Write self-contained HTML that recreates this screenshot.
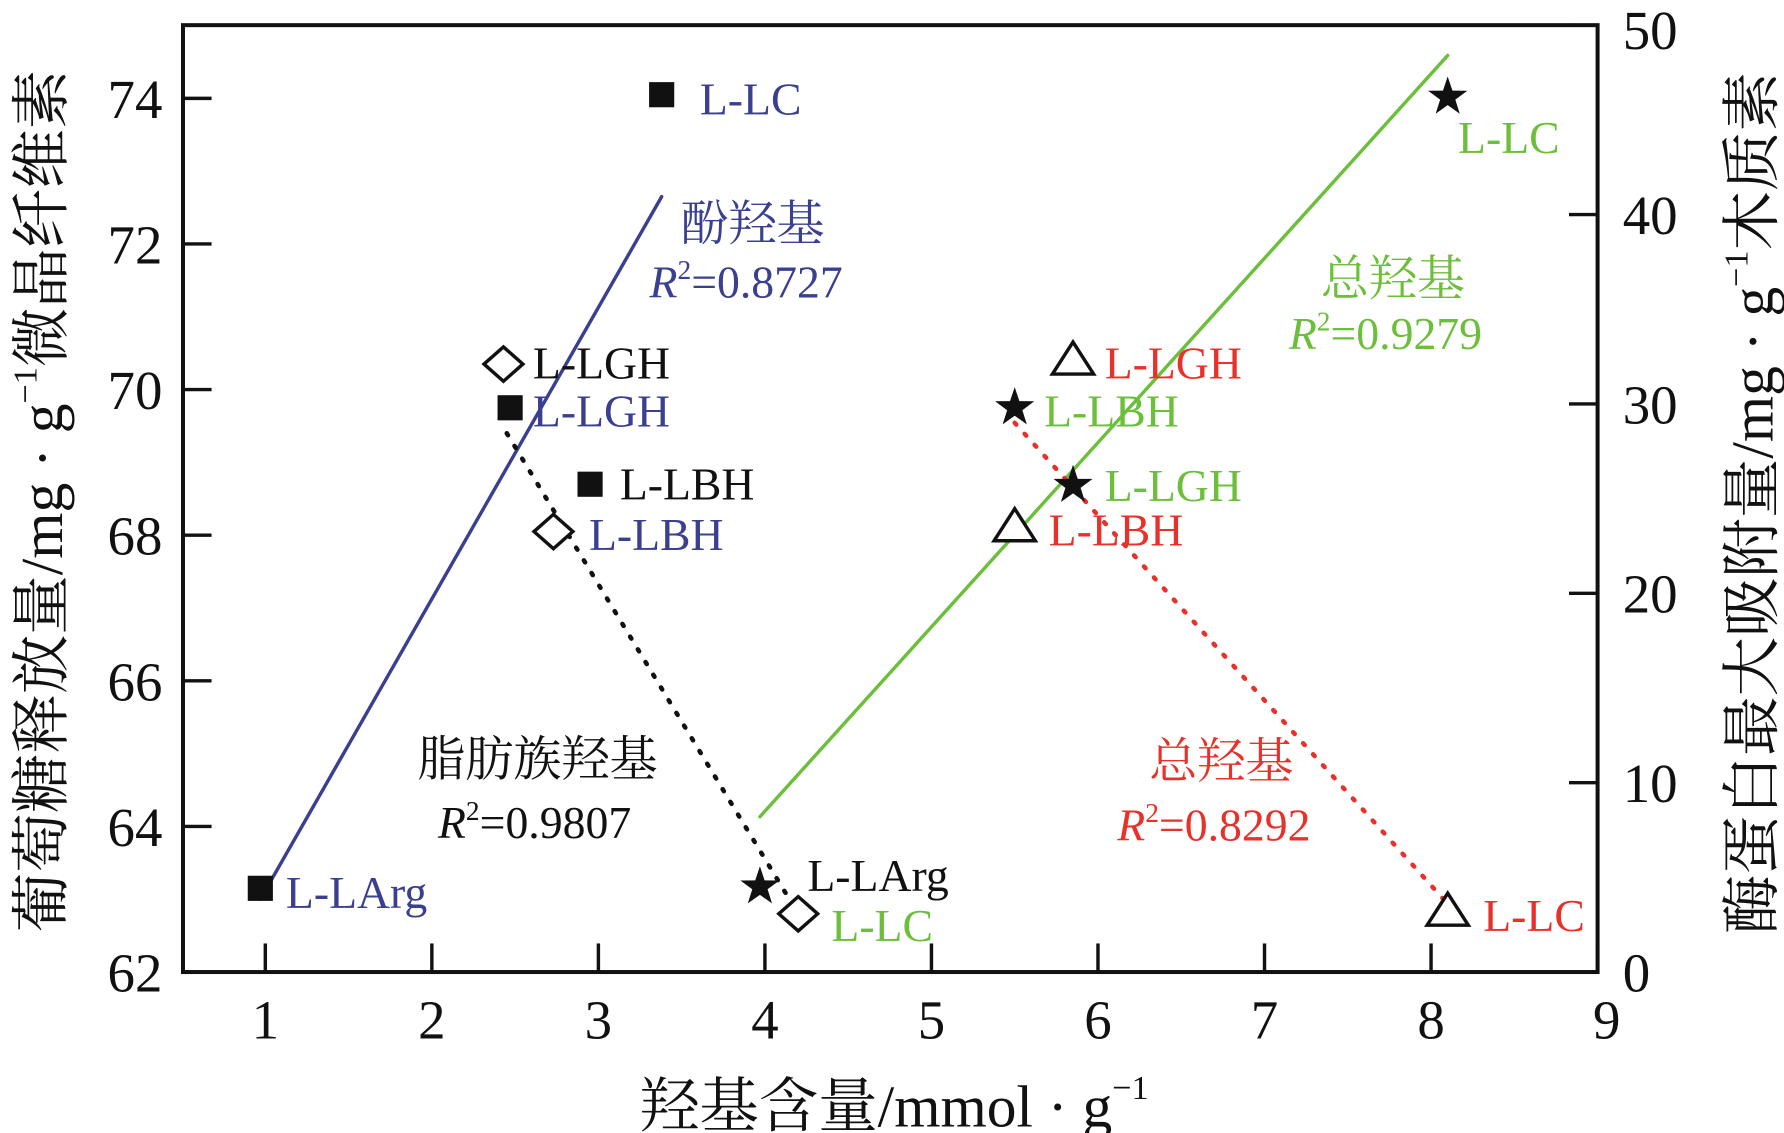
<!DOCTYPE html>
<html><head><meta charset="utf-8"><style>
html,body{margin:0;padding:0;background:#fff;}
svg{display:block;}
text{font-family:"Liberation Serif","Noto Serif CJK SC",serif;}
</style></head><body>
<svg id="chart" width="1784" height="1133" viewBox="0 0 1560 990.75" xmlns="http://www.w3.org/2000/svg"></svg>
<script>
// ---- data ----
const xTicks = [1,2,3,4,5,6,7,8,9];
const yLeftTicks = [62,64,66,68,70,72,74];
const yRightTicks = [0,10,20,30,40,50];
// phenolic hydroxyl (squares, left axis)
const sqNames = ['L-LArg','L-LGH','L-LBH','L-LC'];
const sqX = [0.97,2.47,2.95,3.38];
const sqY = [63.15,69.75,68.7,74.05];
// aliphatic hydroxyl (diamonds, left axis)
const dmNames = ['L-LGH','L-LBH','L-LC'];
const dmX = [2.43,2.73,4.2];
const dmY = [70.35,68.05,62.8];
// total hydroxyl (stars, right axis)
const stNames = ['L-LArg','L-LBH','L-LGH','L-LC'];
const stX = [3.97,5.5,5.85,8.1];
const stY = [4.5,29.8,25.7,46.2];
// total hydroxyl (triangles, right axis)
const trNames = ['L-LGH','L-LBH','L-LC'];
const trX = [5.85,5.5,8.1];
const trY = [32.3,23.5,3.2];
// fit lines [x0,x1], [y0,y1]
const fitBlueX = [0.97,3.38], fitBlueY = [63.0,72.65];
const fitBlackX = [2.45,4.2], fitBlackY = [69.4,62.8];
const fitGreenX = [3.97,8.1], fitGreenY = [8.2,48.4];
const fitRedX = [5.5,8.1], fitRedY = [29.0,3.6];

const NS='http://www.w3.org/2000/svg';
const svg=document.getElementById('chart');
const L=160,R=1397,T=22,B=850;
const sx=v=>232+(v-1)*(R-232)/8;
const syL=v=>B-(v-62)*(B-86)/12;
const syR=v=>B-v*(B-22)/50;
const BLUE='#3a3f8f',GREEN='#6cbf3a',RED='#e8312a';
function mk(tag,attrs,parent){const e=document.createElementNS(NS,tag);for(const k in attrs)e.setAttribute(k,attrs[k]);(parent||svg).appendChild(e);return e;}
function txt(x,y,s,fill,size,name,anchor){const t=mk('text',{x:x,y:y,fill:fill,'font-size':size,'text-anchor':anchor||'start'});t.textContent=s;


return t;}

// frame
const fr=mk('rect',{x:L,y:T,width:R-L,height:B-T,fill:'none',stroke:'#111','stroke-width':3.5});


xTicks.forEach(v=>{const l=mk('line',{x1:sx(v),x2:sx(v),y1:B,y2:B-25,stroke:'#111','stroke-width':3});


txt(sx(v)+(v===9?8:0),B+58,String(v),'#111',48,'x-tick-label','middle');});
yLeftTicks.forEach(v=>{const l=mk('line',{x1:L,x2:L+25,y1:syL(v),y2:syL(v),stroke:'#111','stroke-width':3});


txt(L-18,syL(v)+17,String(v),'#111',48,'y-left-tick-label','end');});
yRightTicks.forEach(v=>{const l=mk('line',{x1:R,x2:R-25,y1:syR(v),y2:syR(v),stroke:'#111','stroke-width':3});


txt(R+22,syR(v)+17+(v===50?4:0),String(v),'#111',48,'y-right-tick-label','start');});

// axis titles
const xt=mk('text',{x:782,y:985,'font-size':52,'text-anchor':'middle',fill:'#111'});
xt.innerHTML='羟基含量/mmol · g<tspan font-size="30" dy="-24">−1</tspan>';


const yl=mk('text',{x:0,y:0,'font-size':52,'text-anchor':'middle',fill:'#111',transform:'translate(54,438) rotate(-90)'});
yl.innerHTML='葡萄糖释放量/mg · g<tspan font-size="30" dy="-22">−1</tspan><tspan dy="22">微晶纤维素</tspan>';


const yr=mk('text',{x:0,y:0,'font-size':52,'text-anchor':'middle',fill:'#111',transform:'translate(1550,440) rotate(-90)'});
yr.innerHTML='酶蛋白最大吸附量/mg · g<tspan font-size="30" dy="-22">−1</tspan><tspan dy="22">木质素</tspan>';



// fit lines
function fit(xs,ys,sy,color,dash,name){const l=mk('line',{x1:sx(xs[0]),y1:sy(ys[0]),x2:sx(xs[1]),y2:sy(ys[1]),stroke:color,'stroke-width':dash?4:3,'stroke-dasharray':dash||'none','stroke-linecap':'round'});

}
fit(fitBlueX,fitBlueY,syL,BLUE,null,'phenolic-fit-line');
fit(fitBlackX,fitBlackY,syL,'#111','2 11','aliphatic-fit-line');
fit(fitGreenX,fitGreenY,syR,GREEN,null,'total-green-fit-line');
fit(fitRedX,fitRedY,syR,RED,'2 11','total-red-fit-line');

// markers
sqX.forEach((v,i)=>{const r=mk('rect',{x:sx(v)-11,y:syL(sqY[i])-11,width:22,height:22,fill:'#111'});

});
dmX.forEach((v,i)=>{const cx=sx(v),cy=syL(dmY[i]);const p=mk('polygon',{points:`${cx-17},${cy} ${cx},${cy-15} ${cx+17},${cy} ${cx},${cy+15}`,fill:'#fff',stroke:'#111','stroke-width':3});

});
trX.forEach((v,i)=>{const cx=sx(v),cy=syR(trY[i]);const p=mk('polygon',{points:`${cx-18},${cy+12} ${cx},${cy-16} ${cx+18},${cy+12}`,fill:'#fff',stroke:'#111','stroke-width':3});

});
stX.forEach((v,i)=>{const cx=sx(v),cy=syR(stY[i]);let pts=[];for(let k=0;k<10;k++){const a=-Math.PI/2+k*Math.PI/5;const r=k%2?7:18;pts.push((cx+r*Math.cos(a)).toFixed(1)+','+(cy+r*Math.sin(a)).toFixed(1));}
const p=mk('polygon',{points:pts.join(' '),fill:'#111'});

});

// point labels
const F=40;
txt(612,100,'L-LC',BLUE,F,'label-phenolic-llc');
txt(466,331,'L-LGH','#111',F,'label-aliphatic-llgh');
txt(466,373,'L-LGH',BLUE,F,'label-phenolic-llgh');
txt(542,437,'L-LBH','#111',F,'label-phenolic-llbh');
txt(515,481,'L-LBH',BLUE,F,'label-aliphatic-llbh');
txt(250,794,'L-LArg',BLUE,F,'label-phenolic-llarg');
txt(706,779,'L-LArg','#111',F,'label-star-llarg');
txt(727,823,'L-LC',GREEN,F,'label-aliphatic-llc');
txt(1275,134,'L-LC',GREEN,F,'label-star-llc');
txt(966,331,'L-LGH',RED,F,'label-triangle-llgh');
txt(913,373,'L-LBH',GREEN,F,'label-star-llbh');
txt(966,438,'L-LGH',GREEN,F,'label-star-llgh');
txt(917,477,'L-LBH',RED,F,'label-triangle-llbh');
txt(1297,814,'L-LC',RED,F,'label-triangle-llc');
// group labels
txt(595,210,'酚羟基',BLUE,42,'phenolic-group-label');
function r2(x,y,val,color,name){const t=mk('text',{x:x,y:y,fill:color,'font-size':40});t.innerHTML='<tspan font-style="italic">R</tspan><tspan font-size="24" dy="-16">2</tspan><tspan dy="16">='+val+'</tspan>';

}
r2(568,260,'0.8727',BLUE,'phenolic-r2');
txt(365,678,'脂肪族羟基','#111',42,'aliphatic-group-label');
r2(383,733,'0.9807','#111','aliphatic-r2');
txt(1155,258,'总羟基',GREEN,42,'total-green-group-label');
r2(1127,305,'0.9279',GREEN,'total-green-r2');
txt(1005,680,'总羟基',RED,42,'total-red-group-label');
r2(977,735,'0.8292',RED,'total-red-r2');
</script>
</body></html>
